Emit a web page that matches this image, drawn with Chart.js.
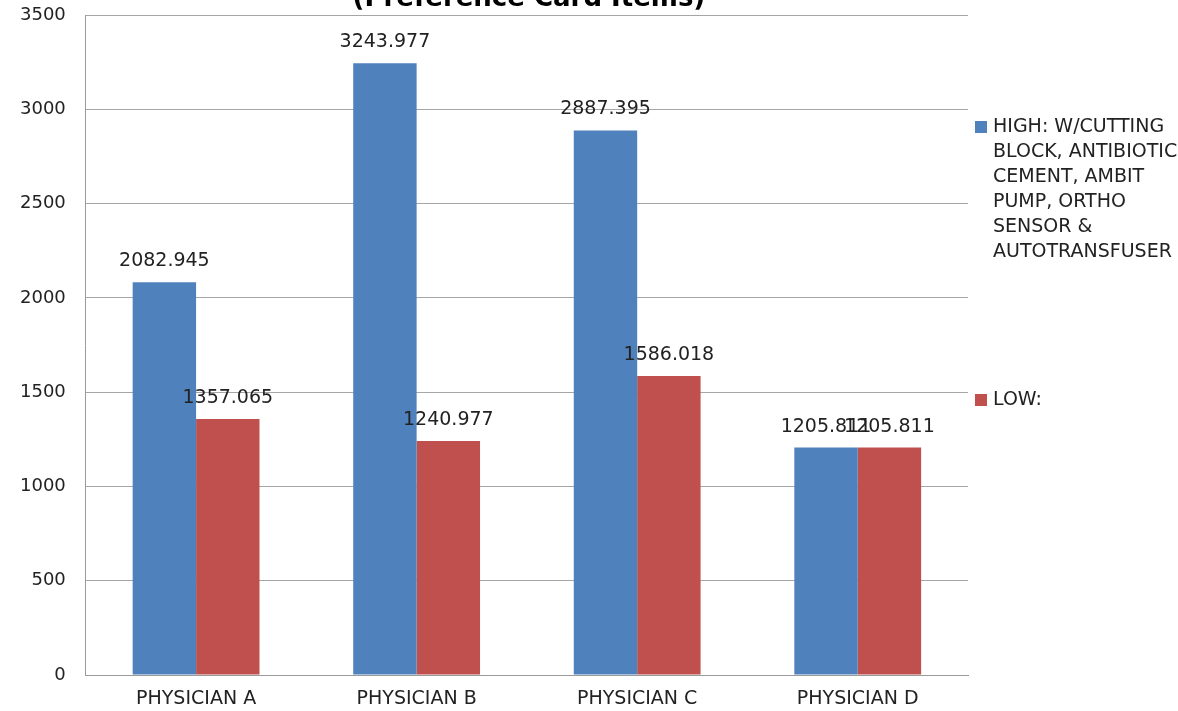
<!DOCTYPE html>
<html lang="en">
<head>
    <meta charset="UTF-8">
    <title>Preference Card Items</title>
    <script src="https://cdn.jsdelivr.net/npm/chart.js"></script>
    <style>
        html, body { margin: 0; padding: 0; background: #fff; overflow: hidden; }
        #cardChart { display: block; }
    </style>
</head>
<body>
    <canvas id="cardChart" width="1178" height="711"></canvas>

    <script>
        // chart values
        const physicians = ['PHYSICIAN A', 'PHYSICIAN B', 'PHYSICIAN C', 'PHYSICIAN D'];
        const highValues = [2082.945, 3243.977, 2887.395, 1205.811];
        const lowValues = [1357.065, 1240.977, 1586.018, 1205.811];
        const yTicks = [0, 500, 1000, 1500, 2000, 2500, 3000, 3500];
        const highLabel = ['HIGH: W/CUTTING', 'BLOCK, ANTIBIOTIC', 'CEMENT, AMBIT', 'PUMP, ORTHO', 'SENSOR &', 'AUTOTRANSFUSER'];
        const lowLabel = ['LOW:'];
        const titleText = '(Preference Card Items)';

        const FONT = '"DejaVu Sans", sans-serif';
        const BLUE = '#4F81BD';
        const RED = '#C0504D';

        // value labels sitting over each bar
        const valueLabels = {
            id: 'valueLabels',
            afterDatasetsDraw(chart) {
                const ctx = chart.ctx;
                ctx.save();
                ctx.font = '19px ' + FONT;
                ctx.fillStyle = '#222';
                ctx.textAlign = 'center';
                ctx.textBaseline = 'middle';
                chart.data.datasets.forEach((ds, i) => {
                    chart.getDatasetMeta(i).data.forEach((bar, j) => {
                        ctx.fillText(ds.data[j].toFixed(3), bar.x, bar.y - 21);
                    });
                });
                ctx.restore();
            }
        };

        // title is cut by the top edge in the original, only its lower part shows
        const cutTitle = {
            id: 'cutTitle',
            afterDraw(chart) {
                const ctx = chart.ctx;
                const area = chart.chartArea;
                ctx.save();
                ctx.font = 'bold 26px ' + FONT;
                ctx.fillStyle = '#000';
                ctx.textAlign = 'center';
                ctx.textBaseline = 'alphabetic';
                ctx.fillText(titleText, (area.left + area.right) / 2 + 2, 6);
                ctx.restore();
            }
        };

        // legend on the right with wrapped text
        const sideLegend = {
            id: 'sideLegend',
            afterDraw(chart) {
                const ctx = chart.ctx;
                const area = chart.chartArea;
                const items = [
                    { color: BLUE, lines: highLabel, y: area.top + 112 },
                    { color: RED, lines: lowLabel, y: area.top + 385 }
                ];
                ctx.save();
                ctx.font = '19px ' + FONT;
                ctx.textBaseline = 'middle';
                ctx.textAlign = 'left';
                items.forEach(item => {
                    ctx.fillStyle = item.color;
                    ctx.fillRect(area.right + 7, item.y - 6, 12, 12);
                    ctx.fillStyle = '#222';
                    item.lines.forEach((line, k) => {
                        ctx.fillText(line, area.right + 25, item.y + k * 25);
                    });
                });
                ctx.restore();
            }
        };

        const ctx = document.getElementById('cardChart').getContext('2d');

        new Chart(ctx, {
            type: 'bar',
            data: {
                labels: physicians,
                datasets: [{
                    label: highLabel.join(' '),
                    data: highValues,
                    backgroundColor: BLUE,
                    categoryPercentage: 0.575,
                    barPercentage: 1.0
                }, {
                    label: lowLabel.join(' '),
                    data: lowValues,
                    backgroundColor: RED,
                    categoryPercentage: 0.575,
                    barPercentage: 1.0
                }]
            },
            options: {
                responsive: false,
                maintainAspectRatio: false,
                animation: false,
                layout: {
                    padding: { left: 0, right: 210, top: 15, bottom: 0 }
                },
                scales: {
                    x: {
                        afterFit(axis) {
                            axis.height = 36;
                        },
                        grid: { display: false, drawTicks: false },
                        border: { display: true, color: '#9a9a9a', width: 1 },
                        ticks: {
                            color: '#222',
                            padding: 13,
                            font: { family: FONT, size: 19 }
                        }
                    },
                    y: {
                        min: 0,
                        max: 3500,
                        afterBuildTicks(axis) {
                            axis.ticks = yTicks.map(v => ({ value: v }));
                        },
                        afterFit(axis) {
                            axis.paddingTop = 0;
                            axis.paddingBottom = 0;
                        },
                        grid: { color: '#a6a6a6', drawTicks: false },
                        border: { display: true, color: '#9a9a9a', width: 1 },
                        ticks: {
                            color: '#222',
                            padding: 20,
                            font: { family: FONT, size: 18 },
                            callback: value => String(value)
                        }
                    }
                },
                plugins: {
                    legend: { display: false },
                    title: { display: false },
                    tooltip: { enabled: false }
                }
            },
            plugins: [valueLabels, cutTitle, sideLegend]
        });
    </script>
</body>
</html>
